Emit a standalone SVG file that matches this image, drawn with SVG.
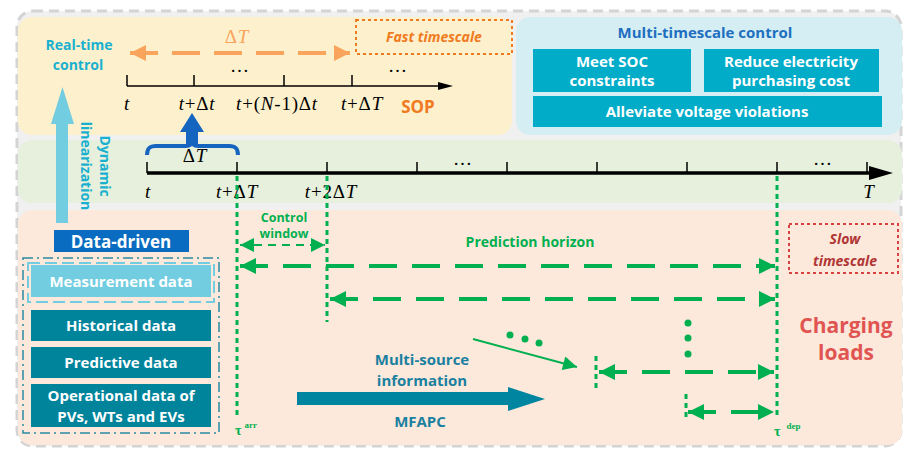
<svg xmlns="http://www.w3.org/2000/svg" width="905" height="452" viewBox="0 0 905 452">
<style>
.s{font-family:"Open Sans","Noto Sans",sans-serif;font-weight:bold;}
.m{font-family:"Liberation Serif",serif;font-size:19px;letter-spacing:0.8px;fill:#000;}
.i{font-style:italic;}
.w{fill:#fff;text-anchor:middle;}
.g{fill:#00b050;}
.gd{stroke:#00b050;stroke-width:3;stroke-dasharray:5 4;fill:none;}
.ga{stroke:#00b050;stroke-width:4;stroke-dasharray:28 15;fill:none;}
.tk{stroke:#000;stroke-width:1.5;}
</style>
<defs>
<marker id="ge" viewBox="0 0 10 10" refX="10" refY="5" markerWidth="5" markerHeight="4" markerUnits="strokeWidth" orient="auto-start-reverse"><path d="M0,0L10,5L0,10z" fill="#00b050"/></marker>
<marker id="ge2" viewBox="0 0 10 10" refX="10" refY="5" markerWidth="9" markerHeight="7" markerUnits="strokeWidth" orient="auto-start-reverse"><path d="M0,0L10,5L0,10z" fill="#00b050"/></marker>
<marker id="oe" viewBox="0 0 10 10" refX="10" refY="5" markerWidth="6" markerHeight="4" markerUnits="strokeWidth" orient="auto-start-reverse"><path d="M0,0L10,5L0,10z" fill="#f8a45c"/></marker>
</defs>

<g id="frame">
<rect x="17" y="11" width="884" height="435" rx="16" fill="#f0f0f0" stroke="#d4d4d4" stroke-width="3" stroke-dasharray="10 6"/>
</g>

<g id="fast-panel">
<rect x="18" y="17" width="494" height="118" rx="14" fill="#fdf0cc"/>
<rect x="356" y="20" width="156" height="34" fill="none" stroke="#f07a20" stroke-width="2" stroke-dasharray="3 3"/>
<text x="434" y="42" class="s i" font-size="14" fill="#f07a20" text-anchor="middle">Fast timescale</text>
<text x="237" y="43" class="m" style="fill:#f8a45c" text-anchor="middle">Δ<tspan class="i">T</tspan></text>
<text x="79" y="50" class="s" font-size="14" fill="#1ab0d0" text-anchor="middle">Real-time</text>
<text x="78" y="70" class="s" font-size="14" fill="#1ab0d0" text-anchor="middle">control</text>
<line x1="127" y1="86" x2="440" y2="86" stroke="#000" stroke-width="1.5"/>
<path d="M438,82L453,86L438,90z" fill="#000"/>
<line x1="127" y1="75" x2="127" y2="86" class="tk"/>
<line x1="194" y1="75" x2="194" y2="86" class="tk"/>
<line x1="284" y1="75" x2="284" y2="86" class="tk"/>
<line x1="352" y1="75" x2="352" y2="86" class="tk"/>
<text x="240" y="72" class="m" text-anchor="middle">…</text>
<text x="398" y="72" class="m" text-anchor="middle">…</text>
<text x="127" y="110" class="m i" text-anchor="middle">t</text>
<text x="197" y="110" class="m" text-anchor="middle"><tspan class="i">t</tspan>+Δ<tspan class="i">t</tspan></text>
<text x="277" y="110" class="m" text-anchor="middle"><tspan class="i">t</tspan>+(<tspan class="i">N</tspan>-1)Δ<tspan class="i">t</tspan></text>
<text x="362" y="110" class="m" text-anchor="middle"><tspan class="i">t</tspan>+Δ<tspan class="i">T</tspan></text>
<text x="418" y="113" class="s" font-size="17" fill="#f07a20" text-anchor="middle">SOP</text>
</g>

<g id="multi-timescale">
<rect x="516" y="17" width="386" height="118" rx="14" fill="#d5eef3"/>
<text x="705" y="38" class="s" font-size="15" fill="#1e6fc0" text-anchor="middle">Multi-timescale control</text>
<rect x="533" y="49" width="158" height="43" fill="#00acc8"/>
<rect x="704" y="49" width="175" height="43" fill="#00acc8"/>
<rect x="533" y="96" width="349" height="31" fill="#00acc8"/>
<text x="612" y="67" class="s w" font-size="15">Meet SOC</text>
<text x="612" y="86" class="s w" font-size="15">constraints</text>
<text x="791" y="67" class="s w" font-size="15">Reduce electricity</text>
<text x="791" y="86" class="s w" font-size="15">purchasing cost</text>
<text x="707" y="117" class="s w" font-size="15">Alleviate voltage violations</text>
</g>

<g id="slow-axis-panel">
<rect x="18" y="140" width="884" height="63" rx="14" fill="#e6f0dc"/>
<line x1="147" y1="173" x2="872" y2="173" stroke="#000" stroke-width="3.5"/>
<path d="M869,166L893,173L869,180z" fill="#000"/>
<line x1="147" y1="162" x2="147" y2="173" class="tk"/>
<line x1="237" y1="162" x2="237" y2="173" class="tk"/>
<line x1="327" y1="162" x2="327" y2="173" class="tk"/>
<line x1="417" y1="162" x2="417" y2="173" class="tk"/>
<line x1="507" y1="162" x2="507" y2="173" class="tk"/>
<line x1="597" y1="162" x2="597" y2="173" class="tk"/>
<line x1="687" y1="162" x2="687" y2="173" class="tk"/>
<line x1="777" y1="162" x2="777" y2="173" class="tk"/>
<line x1="867" y1="162" x2="867" y2="173" class="tk"/>
<text x="463" y="165" class="m" text-anchor="middle">…</text>
<text x="823" y="165" class="m" text-anchor="middle">…</text>
<text x="195" y="162" class="m" text-anchor="middle">Δ<tspan class="i">T</tspan></text>
<text x="148" y="198" class="m i" text-anchor="middle">t</text>
<text x="237" y="198" class="m" text-anchor="middle"><tspan class="i">t</tspan>+Δ<tspan class="i">T</tspan></text>
<text x="331" y="198" class="m" text-anchor="middle"><tspan class="i">t</tspan>+2Δ<tspan class="i">T</tspan></text>
<text x="869" y="198" class="m i" text-anchor="middle">T</text>
</g>

<g id="charging-panel">
<rect x="18" y="210" width="884" height="235" rx="14" fill="#fde9db"/>
<rect x="789" y="224" width="109" height="49" fill="none" stroke="#d94040" stroke-width="2" stroke-dasharray="3 3"/>
<text x="845" y="244" class="s i" font-size="14" fill="#b03535" text-anchor="middle">Slow</text>
<text x="845" y="266" class="s i" font-size="14" fill="#b03535" text-anchor="middle">timescale</text>
<text x="846" y="333" class="s" font-size="21" fill="#e05552" text-anchor="middle">Charging</text>
<text x="846" y="360" class="s" font-size="21" fill="#e05552" text-anchor="middle">loads</text>
</g>

<g id="dynamic-linearization">
<path d="M56,223V124H51L62.5,87L74,124H68V223z" fill="#72cde0"/>
<text transform="translate(100,166) rotate(90)" class="s" font-size="14" fill="#1ab0d0" text-anchor="middle">Dynamic</text>
<text transform="translate(81,166) rotate(90)" class="s" font-size="14" fill="#1ab0d0" text-anchor="middle">linearization</text>
</g>

<g id="brace-arrow">
<path d="M186,145V132H180L192,113L204,132H198V145z" fill="#1565c0"/>
<path d="M147,155C147,148 150,146 156,146H186C190,146 192,144 192,140C192,144 194,146 198,146H229C235,146 238,148 238,155" fill="none" stroke="#1565c0" stroke-width="4"/>
</g>

<g id="data-driven">
<rect x="54" y="230" width="135" height="22" fill="#0a6cc0"/>
<text x="121" y="248" class="s w" font-size="17">Data-driven</text>
<rect x="23" y="258" width="196" height="175" fill="none" stroke="#2a8aa4" stroke-width="1.5" stroke-dasharray="10 4 2 4"/>
<rect x="28" y="263" width="186" height="39" fill="none" stroke="#72cde0" stroke-width="2" stroke-dasharray="12 5"/>
<rect x="31" y="265" width="180" height="32" fill="#72cde0"/>
<text x="121" y="287" class="s w" font-size="15">Measurement data</text>
<rect x="31" y="310" width="180" height="31" fill="#00849c"/>
<text x="121" y="331" class="s w" font-size="15">Historical data</text>
<rect x="31" y="347" width="180" height="31" fill="#00849c"/>
<text x="121" y="368" class="s w" font-size="15">Predictive data</text>
<rect x="31" y="384" width="180" height="43" fill="#00849c"/>
<text x="121" y="401" class="s w" font-size="15">Operational data of</text>
<text x="121" y="422" class="s w" font-size="15">PVs, WTs and EVs</text>
</g>

<g id="mfapc">
<text x="422" y="365" class="s" font-size="15" fill="#1a80a0" text-anchor="middle">Multi-source</text>
<text x="422" y="386" class="s" font-size="15" fill="#1a80a0" text-anchor="middle">information</text>
<path d="M297,392H508V387L545,399L508,411V405H297z" fill="#0085a0"/>
<text x="420" y="427" class="s" font-size="15" fill="#1a80a0" text-anchor="middle">MFAPC</text>
</g>

<g id="connectors">
<line x1="237" y1="176" x2="237" y2="416" class="gd"/>
<line x1="327" y1="176" x2="327" y2="322" class="gd"/>
<line x1="777" y1="176" x2="777" y2="416" class="gd"/>
<line x1="596" y1="356" x2="596" y2="391" class="gd"/>
<line x1="686" y1="394" x2="686" y2="421" class="gd"/>
<line x1="240" y1="245" x2="325" y2="245" stroke="#00b050" stroke-width="2" stroke-dasharray="8 6" marker-start="url(#ge2)" marker-end="url(#ge2)"/>
<line x1="240" y1="266" x2="775" y2="266" class="ga" marker-start="url(#ge)" marker-end="url(#ge)"/>
<line x1="330" y1="299" x2="775" y2="299" class="ga" marker-start="url(#ge)" marker-end="url(#ge)"/>
<line x1="599" y1="372" x2="774" y2="372" class="ga" marker-start="url(#ge)" marker-end="url(#ge)"/>
<line x1="688" y1="412" x2="774" y2="412" class="ga" stroke-dasharray="22 12" marker-start="url(#ge)" marker-end="url(#ge)"/>
<line x1="473" y1="339" x2="577" y2="367" stroke="#00b050" stroke-width="2" marker-end="url(#ge2)"/>
<line x1="130" y1="53" x2="350" y2="53" stroke="#f8a45c" stroke-width="4" stroke-dasharray="28 14" marker-start="url(#oe)" marker-end="url(#oe)"/>
<circle cx="510" cy="335" r="3.5" fill="#00b050"/>
<circle cx="525" cy="339" r="3.5" fill="#00b050"/>
<circle cx="539" cy="343" r="3.5" fill="#00b050"/>
<circle cx="688" cy="323" r="3.5" fill="#00b050"/>
<circle cx="688" cy="338" r="3.5" fill="#00b050"/>
<circle cx="688" cy="354" r="3.5" fill="#00b050"/>
</g>

<g id="labels-green">
<text x="284" y="222" class="s g" font-size="12.5" text-anchor="middle">Control</text>
<text x="284" y="238" class="s g" font-size="12.5" text-anchor="middle">window</text>
<text x="530" y="247" class="s g" font-size="14" text-anchor="middle">Prediction horizon</text>
<text x="235" y="435" class="g" font-family="Liberation Serif,serif" font-weight="bold" font-size="14">τ<tspan dx="3" dy="-7" font-size="9">arr</tspan></text>
<text x="774" y="436" class="g" font-family="Liberation Serif,serif" font-weight="bold" font-size="14">τ<tspan dx="6" dy="-7" font-size="9">dep</tspan></text>
</g>
</svg>
